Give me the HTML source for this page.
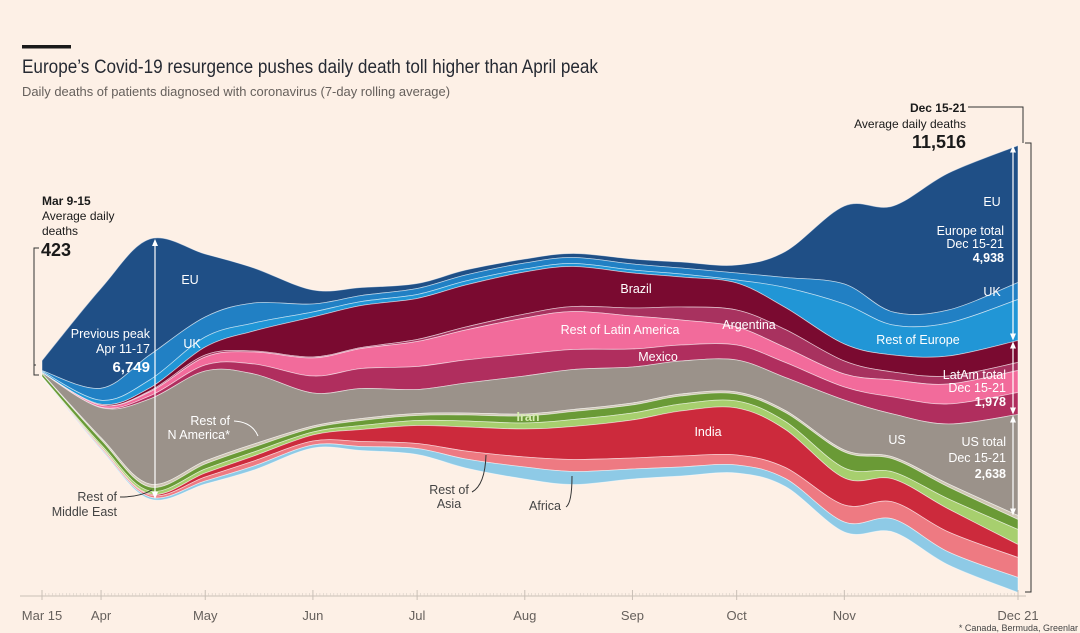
<!DOCTYPE html>
<html><head><meta charset="utf-8">
<style>
html,body{margin:0;padding:0;background:#fdf0e6;}
svg{display:block;font-family:"Liberation Sans",sans-serif;}
</style></head>
<body>
<svg id="chart" width="1080" height="633" viewBox="0 0 1080 633">
<rect width="1080" height="633" fill="#fdf0e6"/>
<rect x="22" y="45" width="49" height="3.5" fill="#1a1a1a"/>
<text x="22" y="73" font-size="19" fill="#262a33" textLength="576" lengthAdjust="spacingAndGlyphs">Europe’s Covid-19 resurgence pushes daily death toll higher than April peak</text>
<text x="22" y="96" font-size="12.5" fill="#66605c" textLength="428" lengthAdjust="spacingAndGlyphs">Daily deaths of patients diagnosed with coronavirus (7-day rolling average)</text>
<g id="layers"></g>
<g id="axis"></g>
<g id="annot" font-size="12.5" fill="#fff">
  <text x="42" y="205" font-weight="bold" fill="#1a1a1a" font-size="12">Mar 9-15</text>
  <text x="42" y="220" fill="#1a1a1a" font-size="12">Average daily</text>
  <text x="42" y="235" fill="#1a1a1a" font-size="12">deaths</text>
  <text x="41" y="256" fill="#1a1a1a" font-size="18" font-weight="bold">423</text>
  <path d="M39,248 H34 V375 H39 M36,365 H34" stroke="#333" fill="none" stroke-width="1"/>
  <text x="966" y="112" text-anchor="end" font-weight="bold" fill="#1a1a1a" font-size="12">Dec 15-21</text>
  <path d="M968,107 H1023 V143 M1025,143 H1031 V592 H1025" stroke="#333" fill="none" stroke-width="1"/>
  <text x="966" y="128" text-anchor="end" fill="#1a1a1a" font-size="12">Average daily deaths</text>
  <text x="966" y="148" text-anchor="end" fill="#1a1a1a" font-size="18" font-weight="bold">11,516</text>
  <text x="190" y="284" text-anchor="middle">EU</text>
  <text x="150" y="338" text-anchor="end">Previous peak</text>
  <text x="150" y="353" text-anchor="end">Apr 11-17</text>
  <text x="150" y="372" text-anchor="end" font-weight="bold" font-size="15">6,749</text>
  <text x="192" y="348" text-anchor="middle">UK</text>
  <text x="230" y="425" text-anchor="end">Rest of</text>
  <text x="230" y="439" text-anchor="end">N America*</text>
  <path d="M234,421 Q252,422 258,436" stroke="#fff" fill="none"/>
  <text x="117" y="501" text-anchor="end" fill="#444">Rest of</text>
  <text x="117" y="516" text-anchor="end" fill="#444">Middle East</text>
  <path d="M120,497 Q140,497 152,490" stroke="#333" fill="none"/>
  <text x="636" y="293" text-anchor="middle">Brazil</text>
  <text x="620" y="334" text-anchor="middle">Rest of Latin America</text>
  <text x="749" y="329" text-anchor="middle">Argentina</text>
  <text x="658" y="361" text-anchor="middle">Mexico</text>
  <text x="528" y="421" text-anchor="middle" fill="#d6ecb0" font-weight="600">Iran</text>
  <text x="708" y="436" text-anchor="middle">India</text>
  <text x="449" y="494" text-anchor="middle" fill="#444">Rest of</text>
  <text x="449" y="508" text-anchor="middle" fill="#444">Asia</text>
  <path d="M472,492 Q485,485 486,455" stroke="#333" fill="none"/>
  <text x="545" y="510" text-anchor="middle" fill="#444">Africa</text>
  <path d="M566,507 Q572,503 572,476" stroke="#333" fill="none"/>
  <text x="897" y="444" text-anchor="middle">US</text>
  <text x="992" y="206" text-anchor="middle">EU</text>
  <text x="1004" y="235" text-anchor="end">Europe total</text>
  <text x="1004" y="248" text-anchor="end">Dec 15-21</text>
  <text x="1004" y="262" text-anchor="end" font-weight="bold">4,938</text>
  <text x="992" y="296" text-anchor="middle">UK</text>
  <text x="918" y="344" text-anchor="middle">Rest of Europe</text>
  <text x="1006" y="379" text-anchor="end">LatAm total</text>
  <text x="1006" y="392" text-anchor="end">Dec 15-21</text>
  <text x="1006" y="406" text-anchor="end" font-weight="bold">1,978</text>
  <text x="1006" y="446" text-anchor="end">US total</text>
  <text x="1006" y="462" text-anchor="end">Dec 15-21</text>
  <text x="1006" y="478" text-anchor="end" font-weight="bold">2,638</text>
  <text x="1078" y="631" text-anchor="end" fill="#444" font-size="9">* Canada, Bermuda, Greenlar</text>
</g>
</svg>
<script>
const dates = ["2020-03-15","2020-04-01","2020-04-15","2020-05-01","2020-05-15","2020-06-01","2020-06-15","2020-07-01","2020-07-15","2020-08-01","2020-08-15","2020-09-01","2020-09-15","2020-10-01","2020-10-15","2020-11-01","2020-11-15","2020-12-01","2020-12-21"];
const seriesNames = ["EU","UK","Rest of Europe","Brazil","Argentina","Rest of Latin America","Mexico","US","Rest of N America","Iran","Rest of Middle East","India","Rest of Asia","Africa"];
const seriesColors = ["#1f4f86","#2180c4","#2196d6","#7a0a30","#a8325f","#f26b9b","#b02e5e","#9b928a","#cfc6b4","#6a9a36","#a7cf6e","#cc2a3c","#ee7a82","#8ecae6"];
const euValues = [250,2500,2900,1575,875,350,200,125,125,100,100,125,150,200,650,1950,2650,3425,3425];
const ukValues = [20,300,625,500,500,200,150,150,150,150,150,150,150,175,250,500,325,325,425];
const restEuropeValues = [30,100,200,250,200,125,100,100,100,75,75,75,75,75,500,1000,750,825,1025];
const brazilValues = [0,25,75,200,500,1000,1050,1025,1050,1050,1000,875,750,675,550,425,425,500,550];
const argentinaValues = [0,0,25,50,25,25,25,50,75,100,125,200,325,425,450,325,200,200,200];
const restLatamValues = [0,50,100,200,300,450,500,625,750,900,950,825,625,450,375,325,425,500,550];
const mexicoValues = [0,12,75,150,250,425,500,575,575,550,500,450,400,375,375,325,425,500,550];
const usValues = [20,750,2125,2250,1750,825,750,600,750,950,1000,900,825,800,825,1250,1075,1500,2525];
const restNAmericaValues = [5,50,75,75,75,50,50,50,50,50,50,50,50,50,50,50,50,75,100];
const iranValues = [80,125,100,125,125,100,125,125,150,175,200,200,200,175,225,400,325,300,250];
const restMiddleEastValues = [10,50,75,100,100,75,100,125,150,150,175,175,175,175,200,250,175,250,375];
const indiaValues = [0,12,25,100,125,150,300,450,600,700,825,950,1125,1175,950,675,575,575,325];
const restAsiaValues = [5,38,50,100,125,100,125,125,200,250,300,275,275,250,275,425,425,500,500];
const africaValues = [2,25,50,75,100,75,100,150,225,300,325,250,225,200,200,250,325,325,375];
const axisLabels = ["Mar 15","Apr","May","Jun","Jul","Aug","Sep","Oct","Nov","Dec 21"];
const axisLabelDates = ["2020-03-15","2020-04-01","2020-05-01","2020-06-01","2020-07-01","2020-08-01","2020-09-01","2020-10-01","2020-11-01","2020-12-21"];

const allSeries = [euValues,ukValues,restEuropeValues,brazilValues,argentinaValues,restLatamValues,mexicoValues,usValues,restNAmericaValues,iranValues,restMiddleEastValues,indiaValues,restAsiaValues,africaValues];
const NS="http://www.w3.org/2000/svg";
const t0 = Date.parse("2020-03-15"), t1 = Date.parse("2020-12-21");
const X0=42, X1=1018, CENTER=369, K=0.04;
function xScale(d){ return X0 + (Date.parse(d)-t0)/(t1-t0)*(X1-X0); }
function hScale(v){ return v*K; }

const n = dates.length;
const xs = dates.map(xScale);
const totals = dates.map((_,i)=>allSeries.reduce((s,a)=>s+a[i],0));
const bounds = [];
for(let j=0;j<=allSeries.length;j++){
  bounds.push(dates.map((_,i)=>{
    let y = CENTER - hScale(totals[i])/2;
    for(let k=0;k<j;k++) y += hScale(allSeries[k][i]);
    return y;
  }));
}
function curve(px,py,reverse){
  let P = px.map((x,i)=>[x,py[i]]);
  if(reverse) P = P.slice().reverse();
  let d = "";
  for(let i=0;i<P.length-1;i++){
    const p0=P[Math.max(0,i-1)],p1=P[i],p2=P[i+1],p3=P[Math.min(P.length-1,i+2)];
    const c1=[p1[0]+(p2[0]-p0[0])/6, p1[1]+(p2[1]-p0[1])/6];
    const c2=[p2[0]-(p3[0]-p1[0])/6, p2[1]-(p3[1]-p1[1])/6];
    d += ` C${c1[0].toFixed(1)},${c1[1].toFixed(1)} ${c2[0].toFixed(1)},${c2[1].toFixed(1)} ${p2[0].toFixed(1)},${p2[1].toFixed(1)}`;
  }
  return d;
}
const layers = document.getElementById('layers');
for(let j=0;j<allSeries.length;j++){
  const top=bounds[j], bot=bounds[j+1];
  let d = `M${xs[0].toFixed(1)},${top[0].toFixed(1)}` + curve(xs,top,false)
        + ` L${xs[n-1].toFixed(1)},${bot[n-1].toFixed(1)}` + curve(xs,bot,true) + " Z";
  const p=document.createElementNS(NS,'path');
  p.setAttribute('d',d);
  p.setAttribute('fill',seriesColors[j]);
  p.setAttribute('stroke','rgba(255,255,255,0.55)');
  p.setAttribute('stroke-width','0.8');
  
  
  layers.appendChild(p);
}
function arrow(x,y1,y2,name){
  const g=document.createElementNS(NS,'g');
  
  
  g.innerHTML=`<line x1="${x}" y1="${y1+3}" x2="${x}" y2="${y2-3}" stroke="#fff" stroke-width="1.2"/>
  <path d="M${x-3},${y1+7} L${x},${y1} L${x+3},${y1+7}Z" fill="#fff"/>
  <path d="M${x-3},${y2-7} L${x},${y2} L${x+3},${y2-7}Z" fill="#fff"/>`;
  layers.appendChild(g);
}
const iPeak = 2;
arrow(155, bounds[0][iPeak], bounds[allSeries.length][iPeak], 'april-peak-arrow');
const L=n-1;
arrow(1013, bounds[0][L], bounds[3][L], 'europe-total-arrow');
arrow(1013, bounds[3][L]+1, bounds[7][L], 'latam-total-arrow');
arrow(1013, bounds[7][L]+1, bounds[8][L], 'us-total-arrow');

const axis=document.getElementById('axis');
const base=document.createElementNS(NS,'line');
base.setAttribute('x1',20);base.setAttribute('x2',1026);base.setAttribute('y1',596);base.setAttribute('y2',596);
base.setAttribute('stroke','#c9bfb6');base.setAttribute('stroke-width','1');


axis.appendChild(base);
let ticks="";
for(let t=t0;t<=t1;t+=86400000){
  const x = X0 + (t-t0)/(t1-t0)*(X1-X0);
  ticks += `M${x.toFixed(1)},593 V596 `;
}
const tp=document.createElementNS(NS,'path');
tp.setAttribute('d',ticks);tp.setAttribute('stroke','#d8cec5');tp.setAttribute('stroke-width','0.6');


axis.appendChild(tp);
axisLabels.forEach((lab,i)=>{
  const x=xScale(axisLabelDates[i]);
  const tk=document.createElementNS(NS,'line');
  tk.setAttribute('x1',x);tk.setAttribute('x2',x);tk.setAttribute('y1',590);tk.setAttribute('y2',600);
  tk.setAttribute('stroke','#c9bfb6');
  
  
  axis.appendChild(tk);
  const tx=document.createElementNS(NS,'text');
  tx.setAttribute('x',x);tx.setAttribute('y',620);tx.setAttribute('text-anchor','middle');
  tx.setAttribute('font-size','13');tx.setAttribute('fill','#66605c');
  tx.textContent=lab;
  
  
  axis.appendChild(tx);
});
</script>
</body></html>
